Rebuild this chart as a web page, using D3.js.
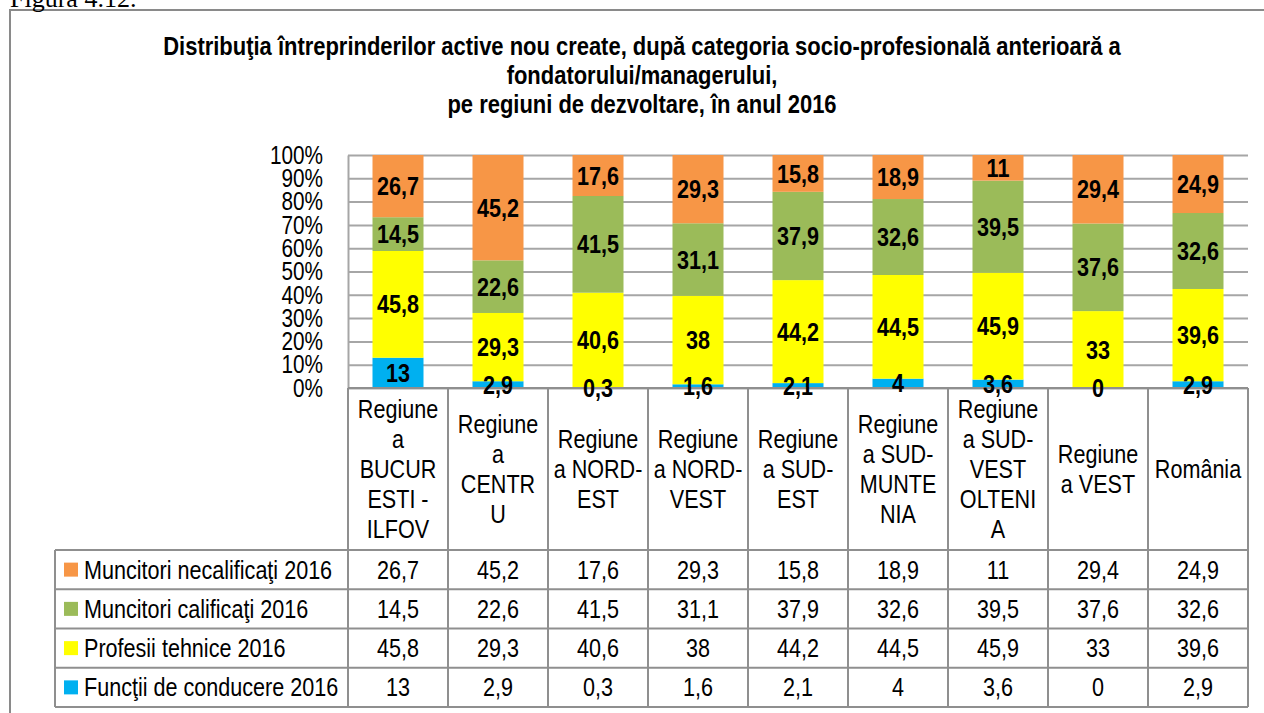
<!DOCTYPE html>
<html>
<head>
<meta charset="utf-8">
<script src="https://cdn.jsdelivr.net/npm/d3@7"></script>
<style>
    body { margin: 0; background: #fff; }
    text { font-family: "Liberation Sans", Arial, sans-serif; fill: #000; }
</style>
</head>
<body>
<div id="chart"></div>
<script>
// values
let categories = ['BUCURESTI - ILFOV', 'CENTRU', 'NORD-EST', 'NORD-VEST', 'SUD-EST',
    'SUD-MUNTENIA', 'SUD-VEST OLTENIA', 'VEST', 'România'];
let categoryLines = [
    ['Regiune', 'a', 'BUCUR', 'ESTI -', 'ILFOV'],
    ['Regiune', 'a', 'CENTR', 'U'],
    ['Regiune', 'a NORD-', 'EST'],
    ['Regiune', 'a NORD-', 'VEST'],
    ['Regiune', 'a SUD-', 'EST'],
    ['Regiune', 'a SUD-', 'MUNTE', 'NIA'],
    ['Regiune', 'a SUD-', 'VEST', 'OLTENI', 'A'],
    ['Regiune', 'a VEST'],
    ['România']
];
let conducere = [13, 2.9, 0.3, 1.6, 2.1, 4, 3.6, 0, 2.9];
let tehnice = [45.8, 29.3, 40.6, 38, 44.2, 44.5, 45.9, 33, 39.6];
let calificati = [14.5, 22.6, 41.5, 31.1, 37.9, 32.6, 39.5, 37.6, 32.6];
let necalificati = [26.7, 45.2, 17.6, 29.3, 15.8, 18.9, 11, 29.4, 24.9];
let yTicks = [0, 10, 20, 30, 40, 50, 60, 70, 80, 90, 100];
let titleLines = [
    'Distribuţia întreprinderilor active nou create, după categoria socio-profesională anterioară a',
    'fondatorului/managerului,',
    'pe regiuni de dezvoltare, în anul 2016'
];

let series = [
    {key: 'conducere', name: 'Funcţii de conducere 2016', values: conducere, color: '#00B0F0'},
    {key: 'tehnice', name: 'Profesii tehnice 2016', values: tehnice, color: '#FFFF00'},
    {key: 'calificati', name: 'Muncitori calificaţi 2016', values: calificati, color: '#9BBB59'},
    {key: 'necalificati', name: 'Muncitori necalificaţi 2016', values: necalificati, color: '#F79646'}
];

let width = 1264, height = 713,
    plot = {left: 348, right: 1248, top: 155, bottom: 388},
    table = {left: 55, headerBottom: 550, rowH: 39.25},
    gridColor = '#a6a6a6', tableColor = '#8f8f8f',
    sx = 0.83; // the original text is set in a narrow face

// put a text at (x, y) and squeeze it horizontally
function place(sel, x, y, k = sx) {
    sel.attr('transform', (d, i) => {
        let px = typeof x === 'function' ? x(d, i) : x,
            py = typeof y === 'function' ? y(d, i) : y;
        return `translate(${px}, ${py}) scale(${k}, 1)`;
    });
}

let svg = d3.select('#chart').append('svg')
    .attr('width', width)
    .attr('height', height);

// outer frame and the caption cut at the top
svg.append('rect')
    .attr('x', 10).attr('y', 10)
    .attr('width', 1400).attr('height', 900)
    .attr('fill', 'none')
    .attr('stroke', '#8a8a8a')
    .attr('stroke-width', 2);

svg.append('text')
    .attr('x', 10).attr('y', 7)
    .style('font-family', '"Liberation Serif", serif')
    .style('font-size', '26px')
    .text('Figura 4.12.');

svg.append('g').selectAll('text')
    .data(titleLines)
    .join('text')
    .call(place, 642, (d, i) => 55 + i * 29, 0.845)
    .attr('text-anchor', 'middle')
    .style('font-size', '26px')
    .style('font-weight', 'bold')
    .text(d => d);

let xScale = d3.scaleBand()
    .domain(categories)
    .range([plot.left, plot.right])
    .paddingInner(0.49)
    .paddingOuter(0.245);

let colScale = d3.scaleBand()
    .domain(categories)
    .range([plot.left, plot.right]);

let yScale = d3.scaleLinear()
    .domain([0, 1])
    .range([plot.bottom, plot.top]);

let yAxis = svg.append('g')
    .attr('class', 'y-axis')
    .attr('transform', `translate(${plot.left}, 0)`)
    .call(
        d3.axisLeft(yScale)
            .tickValues(yTicks.map(d => d / 100))
            .tickSize(-(plot.right - plot.left))
            .tickSizeOuter(0)
            .tickFormat('')
    );
yAxis.select('.domain').attr('stroke', gridColor).attr('stroke-width', 2);
yAxis.selectAll('.tick line').attr('stroke', gridColor).attr('stroke-width', 2);

svg.append('g').attr('class', 'y-labels')
    .selectAll('text')
    .data(yTicks)
    .join('text')
    .call(place, 323, d => yScale(d / 100))
    .attr('dy', '0.35em')
    .attr('text-anchor', 'end')
    .style('font-size', '25px')
    .text(d => d + '%');

// 100% stacked bars
let rows = categories.map((c, i) => {
    let r = {category: c};
    series.forEach(s => r[s.key] = s.values[i]);
    return r;
});
let stacked = d3.stack()
    .keys(series.map(s => s.key))
    .offset(d3.stackOffsetExpand)(rows);

let bar_g = svg.append('g').attr('class', 'bars');
bar_g.selectAll('g')
    .data(stacked)
    .join('g')
    .attr('fill', (d, i) => series[i].color)
    .selectAll('rect')
    .data(d => d)
    .join('rect')
    .attr('x', d => xScale(d.data.category))
    .attr('width', xScale.bandwidth())
    .attr('y', d => yScale(d[1]))
    .attr('height', d => yScale(d[0]) - yScale(d[1]));

// data table under the plot
let table_g = svg.append('g').attr('class', 'table')
    .attr('stroke', tableColor)
    .attr('stroke-width', 2);
let tableOrder = series.slice().reverse();
let rowYs = d3.range(tableOrder.length + 1).map(i => table.headerBottom + i * table.rowH);

table_g.selectAll('.hline')
    .data(rowYs)
    .join('line')
    .attr('class', 'hline')
    .attr('x1', table.left).attr('x2', plot.right)
    .attr('y1', d => d).attr('y2', d => d);
table_g.append('line')
    .attr('x1', plot.left).attr('x2', plot.right)
    .attr('y1', plot.bottom).attr('y2', plot.bottom);
table_g.append('line')
    .attr('x1', table.left).attr('x2', table.left)
    .attr('y1', rowYs[0]).attr('y2', rowYs[rowYs.length - 1]);
table_g.selectAll('.vline')
    .data(categories.map(c => colScale(c)).concat([plot.right]))
    .join('line')
    .attr('class', 'vline')
    .attr('x1', d => d).attr('x2', d => d)
    .attr('y1', plot.bottom).attr('y2', rowYs[rowYs.length - 1]);

let header_g = svg.append('g').attr('class', 'header');
header_g.selectAll('g')
    .data(categoryLines)
    .join('g')
    .each(function (lines, i) {
        let cx = colScale(categories[i]) + colScale.bandwidth() / 2,
            cy = (plot.bottom + table.headerBottom) / 2,
            lineH = 30;
        d3.select(this).selectAll('text')
            .data(lines)
            .join('text')
            .call(place, cx, (d, j) => cy + (j - (lines.length - 1) / 2) * lineH)
            .attr('dy', '0.35em')
            .attr('text-anchor', 'middle')
            .style('font-size', '26px')
            .text(d => d);
    });

let fmt = v => String(v).replace('.', ',');

let body_g = svg.append('g').attr('class', 'table-body');
tableOrder.forEach((s, r) => {
    let cy = rowYs[r] + table.rowH / 2;
    body_g.append('rect')
        .attr('x', 64).attr('y', cy - 7)
        .attr('width', 14).attr('height', 14)
        .attr('fill', s.color);
    body_g.append('text')
        .call(place, 84, cy)
        .attr('dy', '0.35em')
        .style('font-size', '26px')
        .text(s.name);
    body_g.selectAll(`.val-${s.key}`)
        .data(s.values)
        .join('text')
        .attr('class', `val-${s.key}`)
        .call(place, (d, i) => colScale(categories[i]) + colScale.bandwidth() / 2, cy)
        .attr('dy', '0.35em')
        .attr('text-anchor', 'middle')
        .style('font-size', '26px')
        .text(d => fmt(d));
});

// data labels in the middle of every segment
let label_g = svg.append('g').attr('class', 'labels');
stacked.forEach((layer, k) => {
    label_g.selectAll(`.lab-${k}`)
        .data(layer)
        .join('text')
        .attr('class', `lab-${k}`)
        .call(place, d => xScale(d.data.category) + xScale.bandwidth() / 2,
            d => yScale((d[0] + d[1]) / 2))
        .attr('dy', '0.35em')
        .attr('text-anchor', 'middle')
        .style('font-size', '26px')
        .style('font-weight', 'bold')
        .text((d, i) => fmt(series[k].values[i]));
});
</script>
</body>
</html>
